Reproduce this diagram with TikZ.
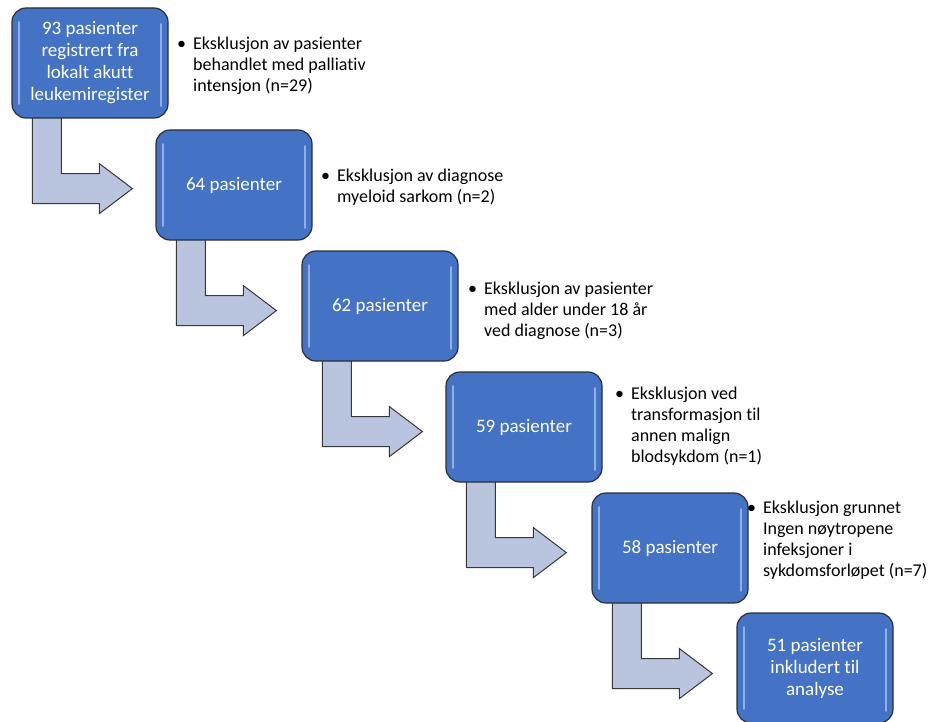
\documentclass[tikz,border=0pt]{standalone}
\usepackage{fontspec}
\setmainfont{Carlito}[Ligatures={NoCommon}]
\usetikzlibrary{backgrounds}
\definecolor{boxblue}{HTML}{4472C4}
\definecolor{boxedge}{HTML}{2B2F38}
\definecolor{glint}{HTML}{C9DAF8}
\definecolor{arrowfill}{HTML}{B9C4DF}
\definecolor{arrowedge}{HTML}{383838}
\tikzset{
    stepbox/.style = {rectangle, rounded corners=14pt, draw=boxedge, line width=1.2pt, fill=boxblue,
        minimum width=156pt, minimum height=110pt, inner sep=2pt, align=center, text=white,
        font=\fontsize{19}{22}\selectfont,
        path picture={
            \draw[glint, opacity=0.6, line width=1.8pt, line cap=round] ([xshift=7pt,yshift=-14pt]path picture bounding box.north west) -- ([xshift=7pt,yshift=14pt]path picture bounding box.south west);
            \draw[glint, opacity=0.6, line width=1.8pt, line cap=round] ([xshift=-7pt,yshift=-16pt]path picture bounding box.north east) -- ([xshift=-7pt,yshift=12pt]path picture bounding box.south east);
        }},
    note/.style = {anchor=west, inner sep=0pt, align=left, font=\fontsize{18}{21}\selectfont},
    bentarrow/.style = {fill=arrowfill, draw=arrowedge, line width=1pt, line join=miter},
}
% bullet list item with hanging lines
\newcommand{\excl}[1]{\begin{tabular}{@{}l@{\hspace{7pt}}l@{}}\textbullet & \begin{tabular}[t]{@{}l@{}}#1\end{tabular}\end{tabular}}
% bent arrow hanging under a box
\newcommand{\turnarrow}[1]{%
  \begin{scope}[on background layer]
  \draw[bentarrow, shift={(#1.south west)}] (21,-5) -- (21,85) -- (88,85) -- (88,95) -- (121,70) -- (88,45) -- (88,55) -- (50,55) -- (50,-5) -- cycle;
  \end{scope}}

\begin{document}
\begin{tikzpicture}[x=1pt, y=-1pt]
\useasboundingbox (0,0) rectangle (931,722);
\node[stepbox] at (90, 63) (p93) {93 pasienter\\registrert fra\\lokalt akutt\\leukemiregister};
\node[stepbox] at (234, 185) (p64) {64 pasienter};
\node[stepbox] at (380, 306) (p62) {62 pasienter};
\node[stepbox] at (524, 427) (p59) {59 pasienter};
\node[stepbox] at (670, 548) (p58) {58 pasienter};
\node[stepbox] at (815, 668) (p51) {51 pasienter\\inkludert til\\analyse};
%
\node[note] at (177, 66) (e29) {\excl{Eksklusjon av pasienter\\behandlet med palliativ\\intensjon (n=29)}};
\node[note] at (321, 188) (e2) {\excl{Eksklusjon av diagnose\\myeloid sarkom (n=2)}};
\node[note] at (468, 311) (e3) {\excl{Eksklusjon av pasienter\\med alder under 18 år\\ved diagnose (n=3)}};
\node[note] at (615, 427) (e1) {\excl{Eksklusjon ved\\transformasjon til\\annen malign\\blodsykdom (n=1)}};
\node[note] at (747, 541) (e7) {\excl{Eksklusjon grunnet\\Ingen nøytropene\\infeksjoner i\\sykdomsforløpet (n=7)}};
%
\turnarrow{p93}
\turnarrow{p64}
\turnarrow{p62}
\turnarrow{p59}
\turnarrow{p58}
\end{tikzpicture}
\end{document}
